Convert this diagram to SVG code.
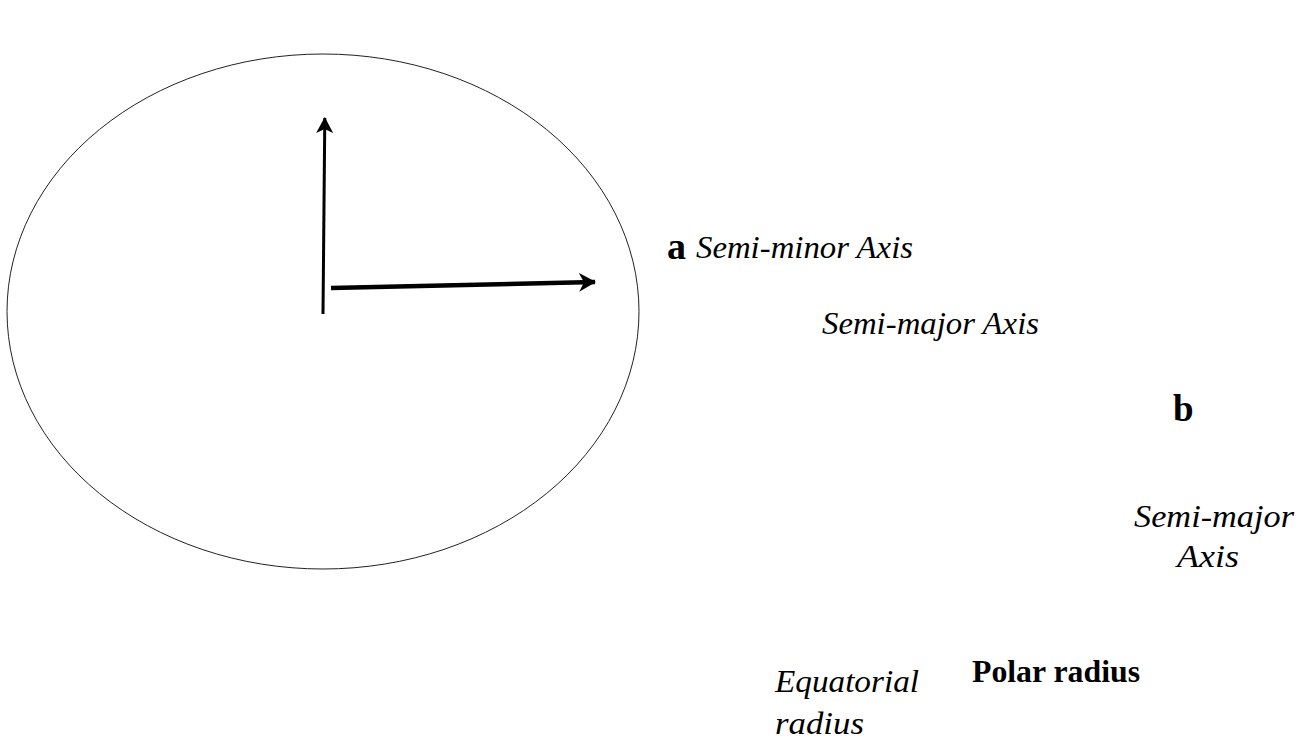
<svg xmlns="http://www.w3.org/2000/svg" width="1302" height="749" viewBox="0 0 1302 749">
<style>
.bold{font-family:"Liberation Serif","Times New Roman",serif;font-weight:bold;font-size:32px;fill:#000}
.scr{font-family:"Liberation Serif","Times New Roman",serif;font-style:italic;font-size:32px;fill:#000}
.ax{stroke:#000;fill:none}
</style>
<defs>
<marker id="arr" viewBox="0 0 16 17" refX="15" refY="8.5" markerWidth="16" markerHeight="17" markerUnits="userSpaceOnUse" orient="auto">
<path d="M0,0 L16,8.5 L0,17 L4,8.5 Z" fill="#000"/>
</marker>
<marker id="arr2" viewBox="0 0 17 19" refX="16" refY="9.5" markerWidth="17" markerHeight="19" markerUnits="userSpaceOnUse" orient="auto">
<path d="M0,0 L17,9.5 L0,19 L5,9.5 Z" fill="#000"/>
</marker>
</defs>
<rect width="1302" height="749" fill="#fff"/>
<g id="ellipse">
<ellipse cx="323" cy="311.5" rx="316" ry="257.5" fill="none" stroke="#222" stroke-width="1"/>
</g>
<g id="connectors">
<line class="ax" x1="323" y1="314" x2="324.8" y2="118" stroke-width="3" marker-end="url(#arr)"/>
<line class="ax" x1="331" y1="288" x2="595" y2="282" stroke-width="4.5" marker-end="url(#arr2)"/>
</g>
<g id="label-a"><text class="bold" x="667" y="259" style="font-size:38px">a</text></g>
<g id="label-semi-minor"><text class="scr" x="696" y="258" textLength="217" lengthAdjust="spacingAndGlyphs">Semi-minor Axis</text></g>
<g id="label-semi-major-1"><text class="scr" x="822" y="334" textLength="217" lengthAdjust="spacingAndGlyphs">Semi-major Axis</text></g>
<g id="label-b"><text class="bold" x="1173" y="421" style="font-size:37px">b</text></g>
<g id="label-semi-major-2">
<text class="scr" x="1134" y="527" textLength="160" lengthAdjust="spacingAndGlyphs">Semi-major</text>
<text class="scr" x="1177" y="567" textLength="62" lengthAdjust="spacingAndGlyphs">Axis</text>
</g>
<g id="label-equatorial">
<text class="scr" x="775" y="692" textLength="144" lengthAdjust="spacingAndGlyphs">Equatorial</text>
<text class="scr" x="775" y="734" textLength="89" lengthAdjust="spacingAndGlyphs">radius</text>
</g>
<g id="label-polar"><text class="bold" x="972" y="682" textLength="168" lengthAdjust="spacingAndGlyphs">Polar radius</text></g>
</svg>
